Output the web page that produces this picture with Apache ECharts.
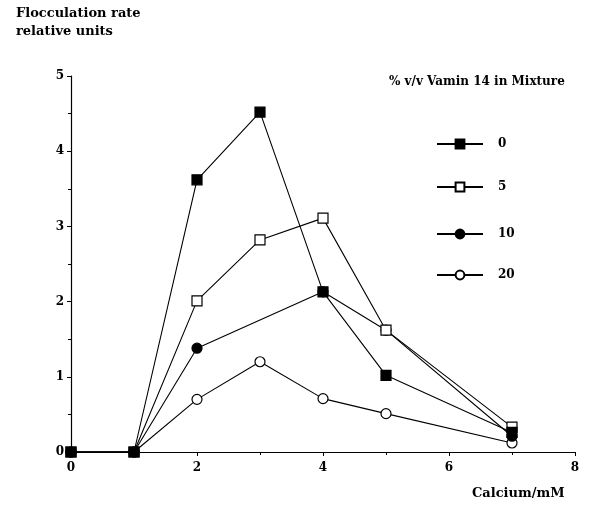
<!DOCTYPE html>
<html><head><meta charset="utf-8">
<script src="https://cdn.jsdelivr.net/npm/echarts@6/dist/echarts.min.js"></script>
<style>html,body{margin:0;padding:0;background:#fff}#c{width:591px;height:510px}</style>
</head><body><div id="c"></div>
<script>
const xTicks = [0, 2, 4, 6, 8];
const yTicks = [0, 1, 2, 3, 4, 5];
const seriesNames = ['0', '5', '10', '20'];
const s0 = [[0, 0], [1, 0], [2, 3.62], [3, 4.52], [4, 2.13], [5, 1.02], [7, 0.26]];
const s5 = [[0, 0], [1, 0], [2, 2.01], [3, 2.82], [4, 3.11], [5, 1.62], [7, 0.33]];
const s10 = [[0, 0], [1, 0], [2, 1.38], [4, 2.13], [5, 1.62], [7, 0.21]];
const s20 = [[0, 0], [1, 0], [2, 0.70], [3, 1.20], [4, 0.71], [5, 0.51], [7, 0.12]];

const F = 'DejaVu Serif';
const chart = echarts.init(document.getElementById('c'), null, {renderer: 'canvas'});
function mk(name, data, symbol, filled, z) {
  return {
    name: name, type: 'line', data: data, symbol: symbol, symbolSize: 10, z: z,
    lineStyle: {color: '#000', width: 1.1},
    itemStyle: {color: filled ? '#000' : '#fff', borderColor: '#000', borderWidth: 1.2},
    emphasis: {disabled: true}, animation: false
  };
}
const legendTops = [133, 176, 223, 264];
const legends = seriesNames.map((n, i) => ({
  data: [n], left: 431, top: legendTops[i], itemWidth: 46, itemHeight: 11,
  textStyle: {fontFamily: F, fontWeight: 'bold', fontSize: 12, color: '#000', padding: [0, 0, 0, 10]},
  selectedMode: false
}));
chart.setOption({
  animation: false,
  grid: {left: 71, right: 16, top: 76, bottom: 58},
  title: [
    {text: 'Flocculation rate\nrelative units', left: 11, top: 0,
     textStyle: {fontFamily: F, fontWeight: 'bold', fontSize: 13, color: '#000', lineHeight: 18}},
    {text: '% v/v Vamin 14 in Mixture', left: 384, top: 71,
     textStyle: {fontFamily: F, fontWeight: 'bold', fontSize: 12, color: '#000'}},
    {text: 'Calcium/mM', left: 467, top: 482,
     textStyle: {fontFamily: F, fontWeight: 'bold', fontSize: 13, color: '#000'}}
  ],
  legend: legends,
  xAxis: {
    type: 'value', min: 0, max: 8, interval: 2,
    axisLine: {onZero: false, lineStyle: {color: '#000', width: 1.2}},
    axisTick: {show: true, length: 4, lineStyle: {color: '#000'}},
    minorTick: {show: true, splitNumber: 2, length: 3, lineStyle: {color: '#000'}},
    splitLine: {show: false},
    axisLabel: {fontFamily: F, fontWeight: 'bold', fontSize: 12, color: '#000', margin: 10,
      formatter: v => xTicks.includes(v) ? String(v) : ''}
  },
  yAxis: {
    type: 'value', min: 0, max: 5, interval: 1,
    axisLine: {show: true, lineStyle: {color: '#000', width: 1.2}},
    axisTick: {show: true, length: 4, lineStyle: {color: '#000'}},
    minorTick: {show: true, splitNumber: 2, length: 3, lineStyle: {color: '#000'}},
    splitLine: {show: false},
    axisLabel: {fontFamily: F, fontWeight: 'bold', fontSize: 12, color: '#000', margin: 7,
      formatter: v => yTicks.includes(v) ? String(v) : ''}
  },
  series: [
    mk('20', s20, 'circle', false, 2),
    mk('10', s10, 'circle', true, 3),
    mk('5', s5, 'rect', false, 4),
    mk('0', s0, 'rect', true, 5)
  ]
});
</script></body></html>
